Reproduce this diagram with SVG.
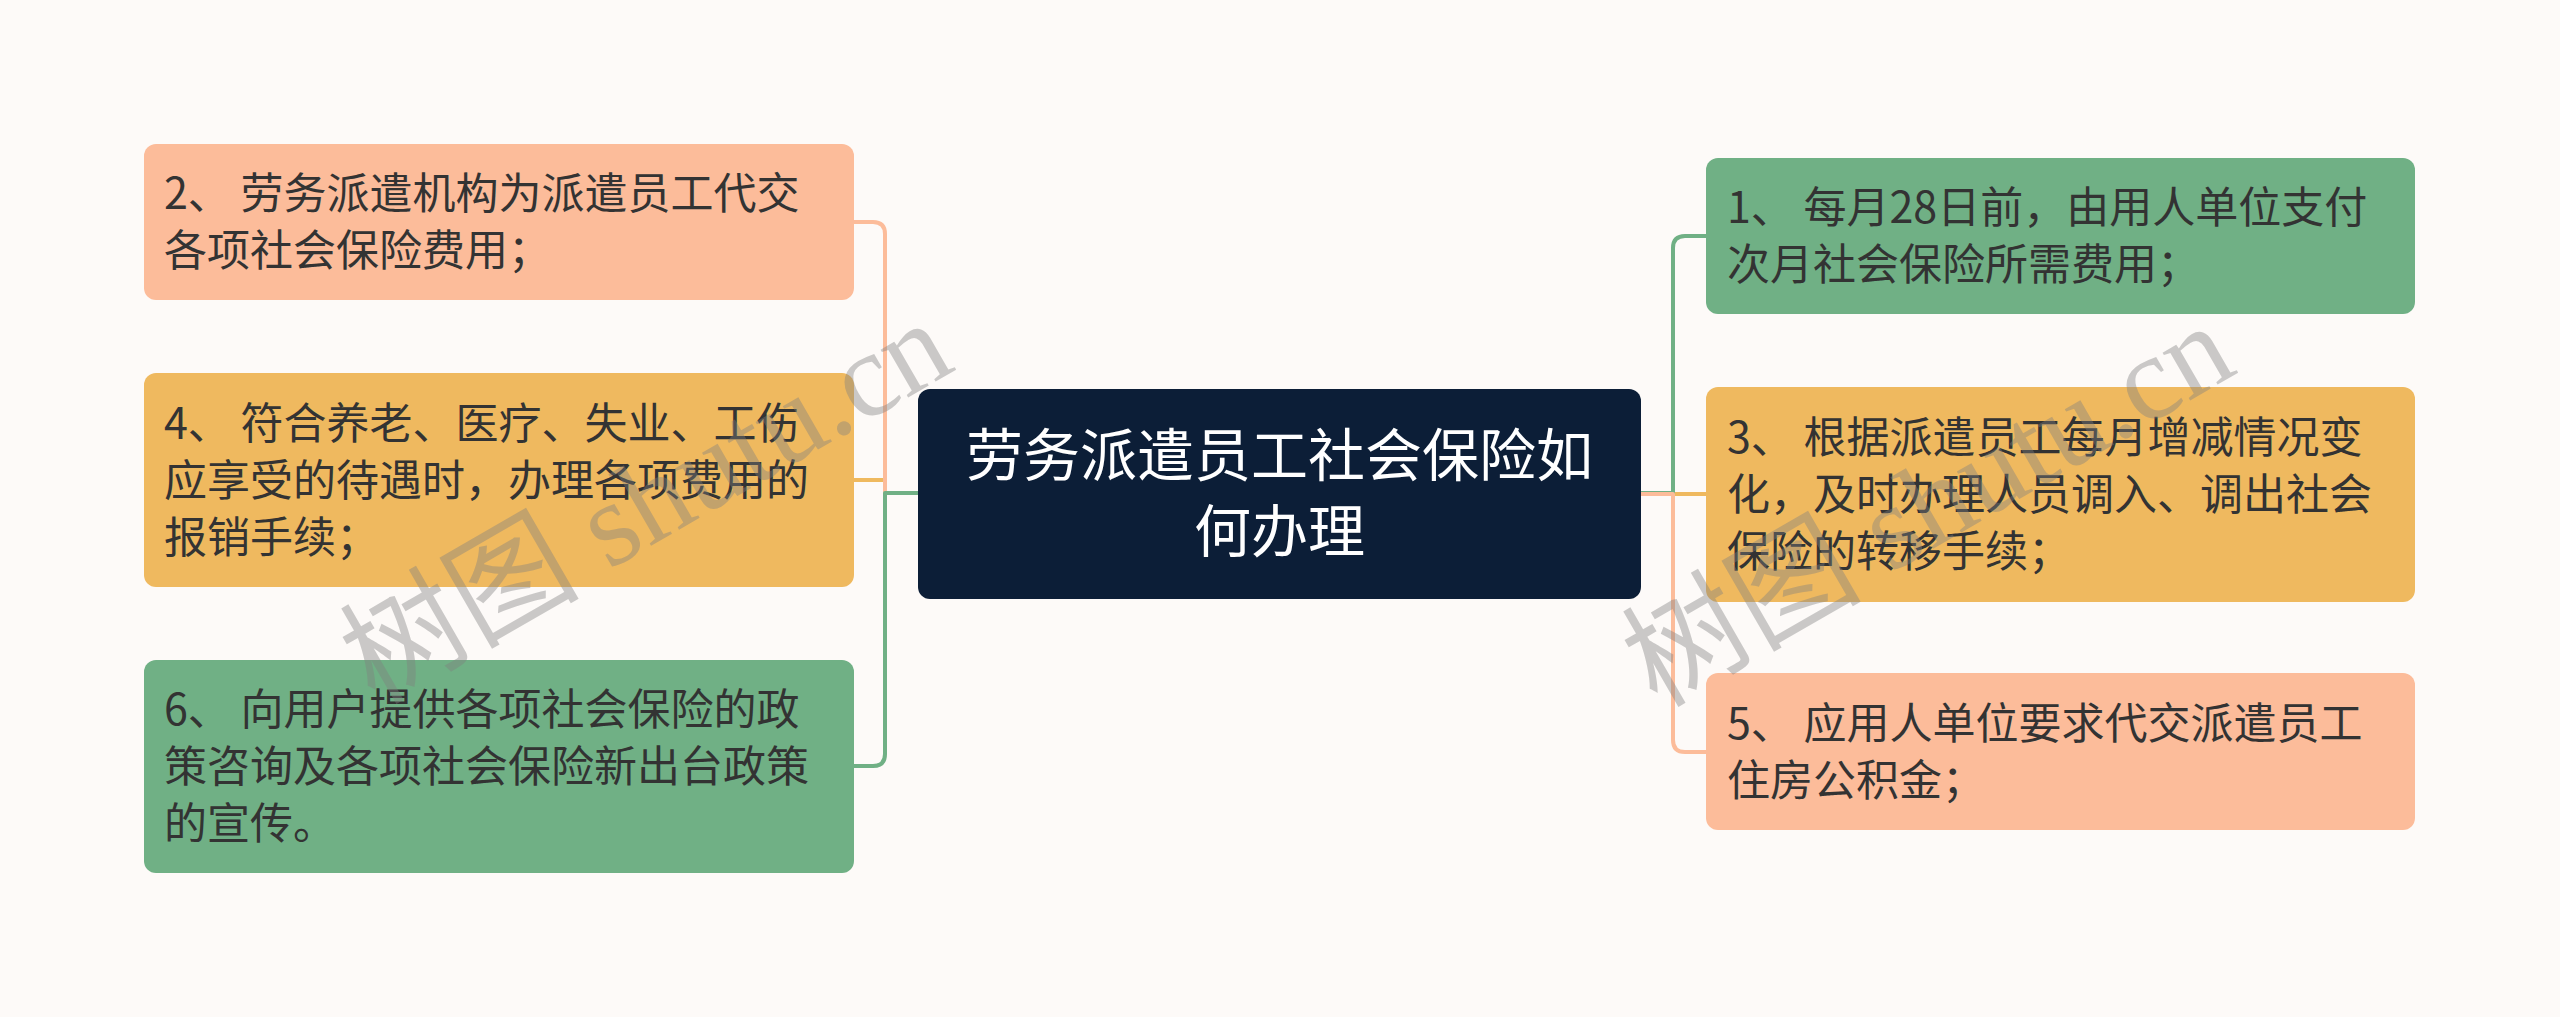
<svg xmlns="http://www.w3.org/2000/svg" width="2560" height="1017" viewBox="0 0 2560 1017">
<style>
.bg{fill:#FDFAF8}
.n-orange{fill:#FCBC9A}
.n-yellow{fill:#EFB95F}
.n-green{fill:#70B085}
.n-root{fill:#0C1E37}
.t{font-family:"Noto Sans CJK SC","Liberation Sans",sans-serif;font-size:43px;fill:#333333}
.tr{font-family:"Noto Sans CJK SC","Liberation Sans",sans-serif;font-size:57px;fill:#FFFFFF;text-anchor:middle}
.c{fill:none;stroke-width:4;stroke-linejoin:round}
.c-orange{stroke:#FCBC9A}
.c-yellow{stroke:#EFB95F}
.c-green{stroke:#70B085}
.wm{font-family:"Liberation Serif","Noto Sans CJK SC",serif;font-size:120px;fill:#808080;opacity:0.4;text-anchor:middle;dominant-baseline:central}
</style>
<rect class="bg" x="0" y="0" width="2560" height="1017"/>
<g id="connectors">
<path class="c c-yellow" d="M918 493 H885 V480 H854"/>
<path class="c c-orange" d="M918 493 H885 V234 Q885 222 873 222 H854"/>
<path class="c c-green" d="M918 493 H885 V754 Q885 766 873 766 H854"/>
<path class="c c-yellow" d="M1641 494 H1706"/>
<path class="c c-green" d="M1641 493 H1673 V248 Q1673 236 1685 236 H1706"/>
<path class="c c-orange" d="M1641 494 H1673 V740 Q1673 752 1685 752 H1706"/>
</g>
<g id="root">
<rect class="n-root" x="918" y="389" width="723" height="210" rx="12"/>
<text class="tr" x="1279.5" y="476">劳务派遣员工社会保险如</text>
<text class="tr" x="1279.5" y="552">何办理</text>
</g>
<g id="node2">
<rect class="n-orange" x="144" y="144" width="710" height="156" rx="12"/>
<text class="t" x="164" y="209">2、 劳务派遣机构为派遣员工代交</text>
<text class="t" x="164" y="266">各项社会保险费用；</text>
</g>
<g id="node4">
<rect class="n-yellow" x="144" y="373" width="710" height="214" rx="12"/>
<text class="t" x="164" y="439">4、 符合养老、医疗、失业、工伤</text>
<text class="t" x="164" y="496">应享受的待遇时，办理各项费用的</text>
<text class="t" x="164" y="553">报销手续；</text>
</g>
<g id="node6">
<rect class="n-green" x="144" y="660" width="710" height="213" rx="12"/>
<text class="t" x="164" y="725">6、 向用户提供各项社会保险的政</text>
<text class="t" x="164" y="782">策咨询及各项社会保险新出台政策</text>
<text class="t" x="164" y="839">的宣传。</text>
</g>
<g id="node1">
<rect class="n-green" x="1706" y="158" width="709" height="156" rx="12"/>
<text class="t" x="1727" y="223">1、 每月28日前，由用人单位支付</text>
<text class="t" x="1727" y="280">次月社会保险所需费用；</text>
</g>
<g id="node3">
<rect class="n-yellow" x="1706" y="387" width="709" height="215" rx="12"/>
<text class="t" x="1727" y="453">3、 根据派遣员工每月增减情况变</text>
<text class="t" x="1727" y="510">化，及时办理人员调入、调出社会</text>
<text class="t" x="1727" y="567">保险的转移手续；</text>
</g>
<g id="node5">
<rect class="n-orange" x="1706" y="673" width="709" height="157" rx="12"/>
<text class="t" x="1727" y="739">5、 应用人单位要求代交派遣员工</text>
<text class="t" x="1727" y="796">住房公积金；</text>
</g>
<g id="watermark">
<text class="wm" transform="translate(646 502) rotate(-30)">树图 shutu.cn</text>
<text class="wm" transform="translate(1928 505) rotate(-30)">树图 shutu.cn</text>
</g>
</svg>
